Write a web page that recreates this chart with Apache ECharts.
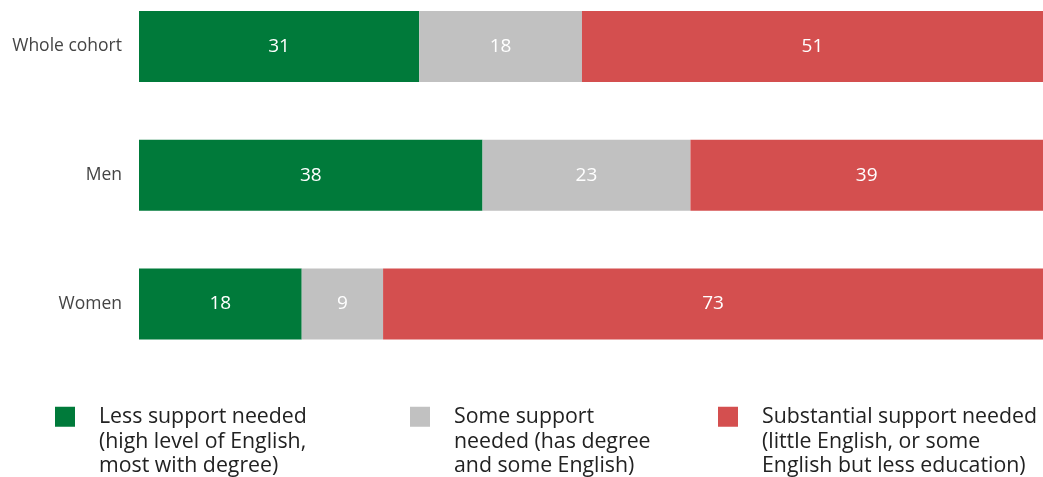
<!DOCTYPE html>
<html><head><meta charset="utf-8">
<script src="https://cdn.jsdelivr.net/npm/echarts@6/dist/echarts.min.js"></script>
<style>html,body{margin:0;padding:0;background:#fff}#c{width:1043px;height:477px}</style>
</head><body><div id="c"></div>
<script>
const categories = ['Whole cohort', 'Men', 'Women'];
const lessSupport = [31, 38, 18];
const someSupport = [18, 23, 9];
const substantialSupport = [51, 39, 73];
const seriesNames = [
  'Less support needed\n(high level of English,\nmost with degree)',
  'Some support\nneeded (has degree\nand some English)',
  'Substantial support needed\n(little English, or some\nEnglish but less education)'
];
const colors = ['#007A3A', '#C1C1C1', '#D44F4F'];
const font = '"Open Sans", Lato, sans-serif';
const chart = echarts.init(document.getElementById('c'));
function mkSeries(name, data, color) {
  return {
    name, type: 'bar', stack: 'total', data, barWidth: 71,
    itemStyle: { color },
    label: { show: true, position: 'inside', color: '#fff', fontSize: 19, fontFamily: font },
    emphasis: { disabled: true }
  };
}
function mkLegend(name, left) {
  return {
    data: [name], left, top: 350, orient: 'horizontal',
    itemWidth: 20, itemHeight: 20, icon: 'rect',
    selectedMode: false,
    formatter: n => '\n\n' + n,
    textStyle: { fontSize: 21.3, lineHeight: 24.7, color: '#222', fontFamily: font, padding: [0, 0, 0, 19] }
  };
}
chart.setOption({
  animation: false,
  grid: { left: 139, right: 0, top: 46.5, height: 257.5, containLabel: false },
  xAxis: { type: 'value', min: 0, max: 100, show: false },
  yAxis: {
    type: 'category', data: categories, inverse: true, boundaryGap: false,
    axisLine: { show: false }, axisTick: { show: false }, splitLine: { show: false },
    axisLabel: { margin: 17, fontSize: 17.5, color: '#444', fontFamily: font }
  },
  legend: [mkLegend(seriesNames[0], 50), mkLegend(seriesNames[1], 405), mkLegend(seriesNames[2], 713)],
  series: [
    mkSeries(seriesNames[0], lessSupport, colors[0]),
    mkSeries(seriesNames[1], someSupport, colors[1]),
    mkSeries(seriesNames[2], substantialSupport, colors[2])
  ]
});
</script></body></html>
